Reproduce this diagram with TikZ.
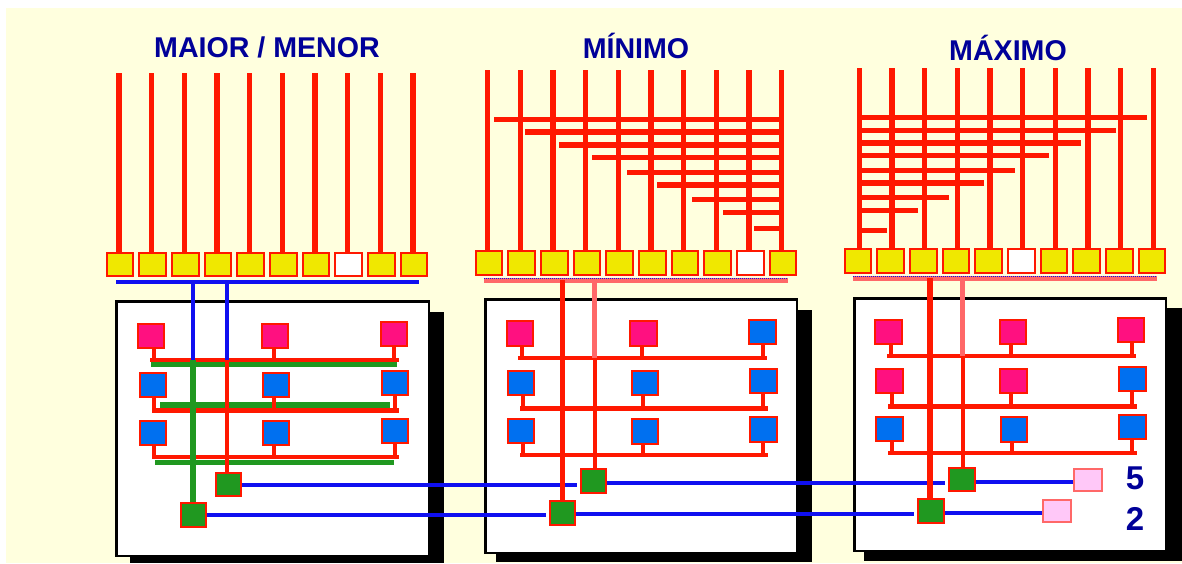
\documentclass[tikz,border=0pt]{standalone}
\usepackage{fontspec}
\setmainfont{Liberation Sans}
\usetikzlibrary{positioning}
\definecolor{paper}{HTML}{FFFFDE}
\definecolor{cellyellow}{HTML}{F0E800}
\definecolor{cellpink}{HTML}{FF1080}
\definecolor{cellblue}{HTML}{0070F0}
\definecolor{cellgreen}{HTML}{209820}
\definecolor{celllight}{HTML}{FFC8F8}
\definecolor{wirered}{HTML}{FF1800}
\definecolor{wiresalmon}{HTML}{FF6868}
\definecolor{wireblue}{HTML}{1010F0}
\definecolor{labelblue}{HTML}{000099}
\tikzset{
  cell/.style={draw=wirered, line width=2pt, inner sep=0pt, minimum width=26.5pt, minimum height=23.5pt},
  gate/.style={cell, fill=cellgreen, minimum width=25.5pt, minimum height=23.5pt},
  output/.style={cell, draw=wiresalmon, fill=celllight, minimum width=27.5pt, minimum height=22.5pt},
  panel/.style={draw=black, line width=2.5pt, fill=white, inner sep=0pt, anchor=north west},
  shade/.style={fill=black, inner sep=0pt, anchor=north west},
  redwire/.style={draw=wirered, line width=5.5pt},
  stub/.style={draw=wirered, line width=4pt},
  greenwire/.style={draw=cellgreen, line width=5.5pt},
  bluewire/.style={draw=wireblue, line width=4pt},
  salmonwire/.style={draw=wiresalmon, line width=5pt},
  title/.style={text=labelblue, font=\fontsize{28.6}{28.6}\selectfont\bfseries},
  digit/.style={text=labelblue, font=\fontsize{33}{33}\selectfont\bfseries}
}
\begin{document}
\begin{tikzpicture}[x=1pt, y=-1pt]
\path[use as bounding box, fill=white] (0,0) rectangle (1182,563);
\fill[paper] (6,8) rectangle (1182,563);

% Titles
\node[title] (titleA) at (267,47) {MAIOR / MENOR};
\node[title] (titleB) at (636,46) {MÍNIMO};
\node[title] (titleC) at (1008,48) {MÁXIMO};

% Panels
\node[shade, minimum width=314pt, minimum height=251pt] (shadeA) at (130,312) {};
\node[panel, minimum width=312.5pt, minimum height=254.5pt] (panelA) at (115,300) {};
\node[shade, minimum width=316pt, minimum height=252pt] (shadeB) at (496,310) {};
\node[panel, minimum width=311.5pt, minimum height=253.5pt] (panelB) at (484,298) {};
\node[shade, minimum width=318pt, minimum height=253pt] (shadeC) at (864,308) {};
\node[panel, minimum width=311.5pt, minimum height=252.5pt] (panelC) at (853,297) {};

% Input cells and their wires
\foreach \i in {1,...,10}{
  \edef\cellfill{\ifnum\i=8 white\else cellyellow\fi}
  \node[cell, fill=\cellfill] (inA\i) at ({120+32.67*(\i-1)},264.5) {};
  \coordinate (topA\i) at ({119+32.67*(\i-1)},73);
  \draw[redwire] (topA\i) -- (topA\i |- inA\i.north);
  \edef\cellfill{\ifnum\i=9 white\else cellyellow\fi}
  \node[cell, fill=\cellfill] (inB\i) at ({489+32.67*(\i-1)},263) {};
  \coordinate (topB\i) at ({487.7+32.67*(\i-1)},70);
  \draw[redwire] (topB\i) -- (topB\i |- inB\i.north);
  \edef\cellfill{\ifnum\i=6 white\else cellyellow\fi}
  \node[cell, fill=\cellfill] (inC\i) at ({858+32.67*(\i-1)},261) {};
  \coordinate (topC\i) at ({859.3+32.67*(\i-1)},68);
  \draw[redwire] (topC\i) -- (topC\i |- inC\i.north);
}

% Cross wires
\foreach \i/\y/\x in {1/119.7/494, 2/132/525, 3/145/559, 4/157.7/592, 5/172.3/627, 6/185/657, 7/199.3/692, 8/212.3/723, 9/228.3/754}{
  \coordinate (crossB\i) at (\x,\y);
  \draw[redwire] (crossB\i) -- (crossB\i -| topB10);
}
\foreach \i/\y/\x in {1/117.7/1147, 2/130.3/1116, 3/143/1081, 4/155.7/1049, 5/170.3/1015, 6/183/984, 7/197.3/949, 8/210.3/918, 9/230.3/887}{
  \coordinate (crossC\i) at (\x,\y);
  \draw[redwire] (crossC\i) -- (crossC\i -| topC1);
}

% Buses
\coordinate (busAw) at (116,281.7);
\coordinate (busAe) at (419,281.7);
\draw[bluewire] (busAw) -- (busAe);
\coordinate (busBw) at (484,280);
\coordinate (busBe) at (788,280);
\draw[salmonwire] (busBw) -- (busBe);
\draw[wireblue, line width=1pt, densely dotted] ([yshift=1.5pt]busBw) -- ([yshift=1.5pt]busBe);
\coordinate (busCw) at (853,278);
\coordinate (busCe) at (1157,278);
\draw[salmonwire] (busCw) -- (busCe);
\draw[wireblue, line width=1pt, densely dotted] ([yshift=1.5pt]busCw) -- ([yshift=1.5pt]busCe);

% Row bars
\foreach \p/\r/\y/\xa/\xb/\w in {A/1/360/150/399/4, A/2/410/152/399/5, A/3/457/152/399/4, B/1/358/518/767/4, B/2/408/520/768/5, B/3/455/520/768/4, C/1/356.3/887/1136/4, C/2/406/888/1137/5, C/3/453/888/1137/4}{
  \coordinate (row\p\r w) at (\xa,\y);
  \coordinate (row\p\r e) at (\xb,\y);
  \draw[draw=wirered, line width=\w pt] (row\p\r w) -- (row\p\r e);
}
\foreach \i/\y/\xa/\xb in {1/364.5/151/397, 2/405/160/390, 3/462.7/155/394}{
  \coordinate (barA\i w) at (\xa,\y);
  \coordinate (barA\i e) at (\xb,\y);
  \draw[greenwire] (barA\i w) -- (barA\i e);
}

% Gates
\node[gate] (gateA1) at (228.5,484.5) {};
\node[gate] (gateA2) at (193.5,515) {};
\node[gate] (gateB1) at (593.7,481) {};
\node[gate] (gateB2) at (562.3,513) {};
\node[gate] (gateC1) at (962,479.5) {};
\node[gate] (gateC2) at (931,511) {};
\node[output] (outTop) at (1088,480) {};
\node[output] (outLow) at (1057,511) {};

% Links between panels
\draw[bluewire, shorten >=3pt] (gateA1.east) -- (gateA1.east -| gateB1.west);
\draw[bluewire, shorten >=3pt] (gateA2.east) -- (gateA2.east -| gateB2.west);
\draw[bluewire, shorten >=3pt] ([yshift=-2pt]gateB1.east) -- ([yshift=-2pt]gateB1.east -| gateC1.west);
\draw[bluewire, shorten >=3pt] ([yshift=-1pt]gateB2.east) -- ([yshift=-1pt]gateB2.east -| gateC2.west);
\draw[bluewire] ([yshift=-2pt]gateC1.east) -- ([yshift=-2pt]gateC1.east -| outTop.west);
\draw[bluewire] ([yshift=-1.5pt]gateC2.east) -- ([yshift=-1.5pt]gateC2.east -| outLow.west);

% Drops from the buses
\coordinate (tapA1) at (193,282);
\coordinate (tapA2) at (227,282);
\draw[bluewire] (tapA1) -- (tapA1 |- rowA1w);
\draw[bluewire] (tapA2) -- (tapA2 |- rowA1w);
\draw[greenwire] (tapA1 |- rowA1w) -- (tapA1 |- gateA2.north);
\draw[stub] (tapA2 |- rowA1w) -- (tapA2 |- gateA1.north);
\coordinate (tapB1) at (562.3,280);
\coordinate (tapB2) at (594.7,280);
\draw[redwire] (tapB1) -- (tapB1 |- gateB2.north);
\draw[salmonwire] (tapB2) -- (tapB2 |- rowB1w);
\draw[stub] (tapB2 |- rowB1w) -- (tapB2 |- gateB1.north);
\coordinate (tapC1) at (930,278);
\coordinate (tapC2) at (962.7,278);
\draw[redwire] (tapC1) -- (tapC1 |- gateC2.north);
\draw[salmonwire] (tapC2) -- (tapC2 |- rowC1w);
\draw[stub] (tapC2 |- rowC1w) -- (tapC2 |- gateC1.north);

% Function cells
\foreach \p/\n/\x/\y/\r/\c/\d in {
  A/1/151/336/1/cellpink/3, A/2/275/336/1/cellpink/-1.5, A/3/394/334/1/cellpink/0,
  A/4/153/385/2/cellblue/1, A/5/276/385/2/cellblue/-2, A/6/395/383/2/cellblue/0,
  A/7/153/433/3/cellblue/1, A/8/276/433/3/cellblue/-2, A/9/395/431/3/cellblue/0,
  B/1/520/333.7/1/cellpink/2, B/2/643.5/333.7/1/cellpink/-1.5, B/3/762.5/332/1/cellblue/0,
  B/4/521/383/2/cellblue/2, B/5/645/383/2/cellblue/-2, B/6/763.3/381/2/cellblue/0,
  B/7/521/431/3/cellblue/2, B/8/645/431.5/3/cellblue/-2, B/9/763.3/429.5/3/cellblue/0,
  C/1/888.3/332/1/cellpink/2.5, C/2/1013/332/1/cellpink/-2.5, C/3/1131.2/330/1/cellpink/1,
  C/4/889.3/381/2/cellpink/2.5, C/5/1013.5/381/2/cellpink/-2.5, C/6/1132.3/379/2/cellblue/0,
  C/7/889.3/429/3/cellblue/2.5, C/8/1014/429.5/3/cellblue/-2.5, C/9/1132.3/427/3/cellblue/0}{
  \node[cell, fill=\c, minimum height=24.5pt] (sq\p\n) at (\x,\y) {};
  \draw[stub] ([xshift=\d pt]sq\p\n.south) -- ([xshift=\d pt]sq\p\n.south |- row\p\r w);
}

% Results
\node[digit] (five) at (1135,478) {5};
\node[digit] (two) at (1135,519) {2};
\end{tikzpicture}
\end{document}
